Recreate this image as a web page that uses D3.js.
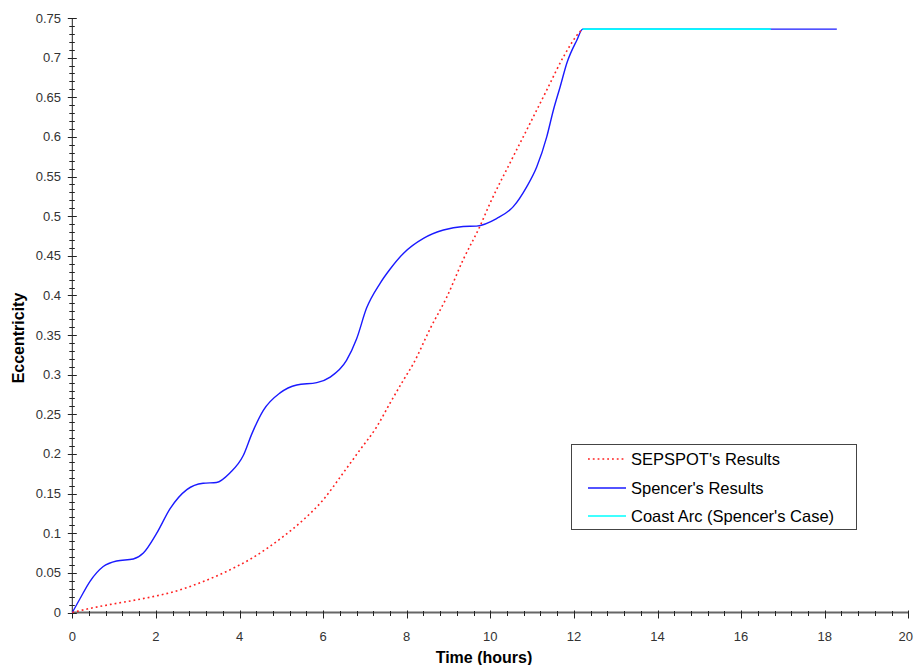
<!DOCTYPE html>
<html>
<head>
<meta charset="utf-8">
<script src="https://cdn.jsdelivr.net/npm/d3@7"></script>
<style>
  html, body { margin: 0; padding: 0; background: #fff; }
  svg { display: block; }
</style>
</head>
<body>
<svg id="chart" width="914" height="665"></svg>
<script>
// ---- data ----
const seriesNames = ["SEPSPOT's Results", "Spencer's Results", "Coast Arc (Spencer's Case)"];
const seriesColors = ["#ff2020", "#1a1aff", "#00ffff"];

const sepspotTime = [0, 0.5, 1.0, 1.54, 2.1, 2.34, 3.13, 3.93, 4.25, 4.69, 5.05, 5.53, 6.0, 6.48, 6.88, 7.28, 7.6, 7.92, 8.16, 8.56, 8.96, 9.35, 9.75, 10.0, 10.47, 10.95, 11.35, 11.75, 12.15, 12.21];
const sepspotEcc  = [0, 0.006, 0.011, 0.016, 0.022, 0.025, 0.039, 0.058, 0.067, 0.082, 0.096, 0.117, 0.142, 0.176, 0.205, 0.234, 0.264, 0.293, 0.314, 0.358, 0.398, 0.445, 0.487, 0.517, 0.567, 0.617, 0.659, 0.701, 0.733, 0.736];

const spencerTime = [0, 0.18, 0.42, 0.74, 1.06, 1.46, 1.7, 2.02, 2.34, 2.74, 3.13, 3.45, 3.77, 4.09, 4.3, 4.57, 4.97, 5.37, 5.85, 6.17, 6.56, 6.8, 7.04, 7.36, 7.6, 7.92, 8.4, 8.88, 9.35, 9.67, 10.15, 10.55, 10.87, 11.11, 11.35, 11.51, 11.67, 11.83, 12.07, 12.21, 18.29];
const spencerEcc  = [0, 0.017, 0.039, 0.058, 0.065, 0.0675, 0.075, 0.100, 0.131, 0.155, 0.163, 0.164, 0.176, 0.198, 0.226, 0.255, 0.277, 0.287, 0.290, 0.297, 0.318, 0.345, 0.384, 0.415, 0.433, 0.453, 0.472, 0.4825, 0.487, 0.4875, 0.497, 0.512, 0.537, 0.562, 0.600, 0.634, 0.663, 0.693, 0.722, 0.736, 0.736];

const coastTime = [12.21, 16.71];
const coastEcc  = [0.736, 0.736];

const xTicks = [0, 2, 4, 6, 8, 10, 12, 14, 16, 18, 20];
const yTicks = [0, 0.05, 0.1, 0.15, 0.2, 0.25, 0.3, 0.35, 0.4, 0.45, 0.5, 0.55, 0.6, 0.65, 0.7, 0.75];
const xLabel = "Time (hours)";
const yLabel = "Eccentricity";

// ---- layout ----
const svg = d3.select("#chart");
const pLeft = 72.3, pRight = 908.3, pTop = 18, pBottom = 612.5;
const x = d3.scaleLinear().domain([0, 20]).range([pLeft, pRight]);
const y = d3.scaleLinear().domain([0, 0.75]).range([pBottom, pTop]);
const font = "Arial, 'Liberation Sans', sans-serif";

// minor ticks
const xMinor = d3.range(0, 20.001, 0.4);
const yMinor = d3.range(0, 0.7501, 0.01);

// axes lines
svg.append("line").attr("x1", pLeft).attr("x2", pRight).attr("y1", pBottom).attr("y2", pBottom)
  .attr("stroke", "#666").attr("stroke-width", 2);
svg.append("line").attr("x1", pLeft).attr("x2", pLeft).attr("y1", pTop).attr("y2", pBottom)
  .attr("stroke", "#222").attr("stroke-width", 1);

// x ticks
svg.append("g").selectAll("line").data(xMinor).join("line")
  .attr("x1", d => Math.round(x(d)) + 0.5).attr("x2", d => Math.round(x(d)) + 0.5)
  .attr("y1", pBottom - 1.5).attr("y2", pBottom + 3.5)
  .attr("stroke", "#222").attr("stroke-width", 1);
svg.append("g").selectAll("line").data(xTicks).join("line")
  .attr("x1", d => Math.round(x(d)) + 0.5).attr("x2", d => Math.round(x(d)) + 0.5)
  .attr("y1", pBottom - 2).attr("y2", pBottom + 6)
  .attr("stroke", "#222").attr("stroke-width", 1);
svg.append("g").selectAll("text").data(xTicks).join("text")
  .attr("x", (d, i) => i === xTicks.length - 1 ? 913 : x(d)).attr("y", 641)
  .attr("text-anchor", (d, i) => i === xTicks.length - 1 ? "end" : "middle")
  .attr("font-family", font).attr("font-size", 13)
  .attr("fill", "#333").text(d => d);

// y ticks
svg.append("g").selectAll("line").data(yMinor).join("line")
  .attr("x1", pLeft - 3).attr("x2", pLeft + 2.5)
  .attr("y1", d => Math.round(y(d)) + 0.5).attr("y2", d => Math.round(y(d)) + 0.5)
  .attr("stroke", "#222").attr("stroke-width", 1);
svg.append("g").selectAll("line").data(yTicks).join("line")
  .attr("x1", pLeft - 4.5).attr("x2", pLeft + 4.5)
  .attr("y1", d => Math.round(y(d)) + 0.5).attr("y2", d => Math.round(y(d)) + 0.5)
  .attr("stroke", "#222").attr("stroke-width", 1);
svg.append("g").selectAll("text").data(yTicks).join("text")
  .attr("x", 61).attr("y", d => y(d) + 4.5)
  .attr("text-anchor", "end").attr("font-family", font).attr("font-size", 13)
  .attr("fill", "#333").text(d => d);

// axis titles
svg.append("text").attr("x", 484).attr("y", 663).attr("text-anchor", "middle")
  .attr("font-family", font).attr("font-size", 16).attr("font-weight", "bold").attr("fill", "#000")
  .text(xLabel);
svg.append("text").attr("transform", "translate(24,338) rotate(-90)").attr("text-anchor", "middle")
  .attr("font-family", font).attr("font-size", 16).attr("font-weight", "bold").attr("fill", "#000")
  .text(yLabel);

// lines
const line = d3.line().x(d => x(d[0])).y(d => y(d[1])).curve(d3.curveMonotoneX);
const spencer = spencerTime.map((t, i) => [t, spencerEcc[i]]);
const sepspot = sepspotTime.map((t, i) => [t, sepspotEcc[i]]);
const coast = coastTime.map((t, i) => [t, coastEcc[i]]);

svg.append("path").attr("d", line(spencer)).attr("fill", "none")
  .attr("stroke", seriesColors[1]).attr("stroke-width", 1.4);
svg.append("path").attr("d", line(coast)).attr("fill", "none")
  .attr("stroke", seriesColors[2]).attr("stroke-width", 1.6);
svg.append("path").attr("d", line(sepspot)).attr("fill", "none")
  .attr("stroke", seriesColors[0]).attr("stroke-width", 1.6).attr("stroke-dasharray", "1.8,3");

// legend
const lg = svg.append("g");
lg.append("rect").attr("x", 571.5).attr("y", 444.5).attr("width", 285).attr("height", 85)
  .attr("fill", "#fff").attr("stroke", "#444").attr("stroke-width", 1);
const rowsY = [459, 488, 516];
seriesNames.forEach((name, i) => {
  lg.append("line").attr("x1", 588).attr("x2", 626).attr("y1", rowsY[i]).attr("y2", rowsY[i])
    .attr("stroke", seriesColors[i]).attr("stroke-width", i === 0 ? 1.6 : 1.4)
    .attr("stroke-dasharray", i === 0 ? "1.8,3" : null);
  lg.append("text").attr("x", 631).attr("y", rowsY[i] + 6)
    .attr("font-family", font).attr("font-size", 16.5).attr("fill", "#000").text(name);
});
</script>
</body>
</html>
